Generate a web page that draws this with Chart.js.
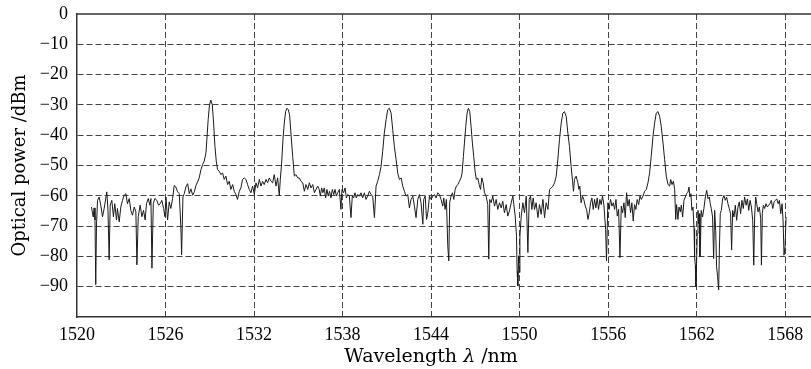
<!DOCTYPE html>
<html>
<head>
<meta charset="utf-8">
<title>Optical spectrum</title>
<script src="https://cdn.jsdelivr.net/npm/chart.js@4.4.0/dist/chart.umd.min.js"></script>
<style>
    html, body { margin: 0; padding: 0; background: #fff; }
    #wrap { width: 811px; height: 369px; }
</style>
</head>
<body>
<div id="wrap"><canvas id="spectrum" width="811" height="369"></canvas></div>
<script>
const wavelength = [
    1520.98, 1521.10, 1521.16, 1521.22, 1521.27, 1521.32, 1521.39, 1521.50, 1521.61, 1521.73,
    1521.84, 1522.02, 1522.10, 1522.18, 1522.25, 1522.36, 1522.47, 1522.56, 1522.68, 1522.74,
    1522.86, 1522.97, 1523.08, 1523.20, 1523.31, 1523.42, 1523.54, 1523.65, 1523.76, 1523.88,
    1523.99, 1524.06, 1524.15, 1524.28, 1524.40, 1524.51, 1524.62, 1524.71, 1524.83, 1524.94,
    1525.01, 1525.08, 1525.17, 1525.28, 1525.41, 1525.53, 1525.64, 1525.75, 1525.87, 1525.96,
    1526.03, 1526.14, 1526.25, 1526.36, 1526.48, 1526.59, 1526.70, 1526.82, 1526.93, 1527.04,
    1527.09, 1527.18, 1527.27, 1527.38, 1527.50, 1527.61, 1527.72, 1527.84, 1527.95, 1528.06,
    1528.17, 1528.28, 1528.40, 1528.51, 1528.62, 1528.74, 1528.80, 1528.89, 1528.98, 1529.07,
    1529.17, 1529.26, 1529.35, 1529.44, 1529.53, 1529.64, 1529.75, 1529.87, 1529.98, 1530.09,
    1530.21, 1530.32, 1530.43, 1530.55, 1530.66, 1530.77, 1530.88, 1531.00, 1531.11, 1531.22,
    1531.34, 1531.45, 1531.56, 1531.68, 1531.79, 1531.90, 1532.02, 1532.13, 1532.24, 1532.36,
    1532.47, 1532.58, 1532.69, 1532.81, 1532.92, 1533.03, 1533.15, 1533.26, 1533.37, 1533.49,
    1533.60, 1533.71, 1533.78, 1533.87, 1533.96, 1534.05, 1534.14, 1534.23, 1534.32, 1534.41,
    1534.50, 1534.62, 1534.73, 1534.84, 1534.96, 1535.07, 1535.18, 1535.30, 1535.41, 1535.52,
    1535.64, 1535.75, 1535.86, 1535.98, 1536.09, 1536.20, 1536.31, 1536.42, 1536.49, 1536.58,
    1536.67, 1536.76, 1536.85, 1536.94, 1537.03, 1537.12, 1537.21, 1537.31, 1537.40, 1537.49,
    1537.58, 1537.67, 1537.78, 1537.89, 1537.96, 1538.07, 1538.17, 1538.26, 1538.35, 1538.46,
    1538.57, 1538.66, 1538.75, 1538.84, 1538.93, 1539.02, 1539.14, 1539.25, 1539.36, 1539.48,
    1539.59, 1539.70, 1539.82, 1539.93, 1540.04, 1540.16, 1540.27, 1540.38, 1540.50, 1540.61,
    1540.72, 1540.83, 1540.95, 1541.06, 1541.17, 1541.29, 1541.40, 1541.51, 1541.63, 1541.74,
    1541.85, 1541.97, 1542.08, 1542.19, 1542.31, 1542.42, 1542.53, 1542.64, 1542.76, 1542.87,
    1542.98, 1543.10, 1543.21, 1543.32, 1543.44, 1543.50, 1543.60, 1543.69, 1543.78, 1543.89,
    1544.00, 1544.12, 1544.23, 1544.34, 1544.45, 1544.56, 1544.68, 1544.79, 1544.86, 1544.95,
    1545.04, 1545.13, 1545.20, 1545.26, 1545.35, 1545.45, 1545.54, 1545.63, 1545.72, 1545.81,
    1545.92, 1546.03, 1546.10, 1546.19, 1546.26, 1546.35, 1546.44, 1546.53, 1546.62, 1546.71,
    1546.80, 1546.89, 1546.98, 1547.07, 1547.16, 1547.26, 1547.35, 1547.44, 1547.53, 1547.62,
    1547.73, 1547.84, 1547.91, 1547.98, 1548.07, 1548.18, 1548.30, 1548.41, 1548.52, 1548.64,
    1548.75, 1548.86, 1548.97, 1549.09, 1549.20, 1549.31, 1549.43, 1549.54, 1549.61, 1549.70,
    1549.79, 1549.83, 1549.88, 1549.93, 1549.97, 1550.02, 1550.11, 1550.22, 1550.33, 1550.45,
    1550.56, 1550.65, 1550.74, 1550.83, 1550.92, 1551.01, 1551.12, 1551.24, 1551.35, 1551.46,
    1551.58, 1551.69, 1551.80, 1551.92, 1552.03, 1552.14, 1552.26, 1552.37, 1552.48, 1552.59,
    1552.70, 1552.82, 1552.93, 1553.04, 1553.16, 1553.27, 1553.38, 1553.49, 1553.59, 1553.65,
    1553.72, 1553.83, 1553.95, 1554.02, 1554.08, 1554.17, 1554.26, 1554.35, 1554.45, 1554.54,
    1554.63, 1554.72, 1554.81, 1554.90, 1554.99, 1555.08, 1555.17, 1555.26, 1555.35, 1555.44,
    1555.53, 1555.62, 1555.71, 1555.83, 1555.89, 1555.98, 1556.07, 1556.16, 1556.26, 1556.35,
    1556.44, 1556.53, 1556.62, 1556.71, 1556.80, 1556.89, 1556.98, 1557.07, 1557.16, 1557.25,
    1557.34, 1557.43, 1557.52, 1557.61, 1557.70, 1557.79, 1557.88, 1557.97, 1558.07, 1558.16,
    1558.25, 1558.36, 1558.47, 1558.59, 1558.70, 1558.81, 1558.92, 1559.04, 1559.15, 1559.26,
    1559.38, 1559.49, 1559.60, 1559.72, 1559.83, 1559.94, 1560.06, 1560.17, 1560.24, 1560.33,
    1560.42, 1560.51, 1560.58, 1560.64, 1560.73, 1560.80, 1560.89, 1560.96, 1561.05, 1561.14,
    1561.23, 1561.32, 1561.41, 1561.48, 1561.54, 1561.61, 1561.68, 1561.75, 1561.82, 1561.86,
    1561.91, 1561.95, 1562.00, 1562.04, 1562.09, 1562.13, 1562.18, 1562.22, 1562.27, 1562.31,
    1562.40, 1562.49, 1562.59, 1562.68, 1562.77, 1562.86, 1562.92, 1562.99, 1563.08, 1563.15,
    1563.22, 1563.29, 1563.35, 1563.42, 1563.49, 1563.54, 1563.60, 1563.67, 1563.76, 1563.85,
    1563.94, 1564.03, 1564.12, 1564.21, 1564.30, 1564.37, 1564.44, 1564.53, 1564.62, 1564.71,
    1564.80, 1564.89, 1564.98, 1565.07, 1565.16, 1565.25, 1565.35, 1565.44, 1565.53, 1565.62,
    1565.71, 1565.80, 1565.87, 1565.93, 1566.00, 1566.07, 1566.16, 1566.25, 1566.34, 1566.39,
    1566.45, 1566.52, 1566.61, 1566.70, 1566.79, 1566.88, 1566.97, 1567.06, 1567.16, 1567.25,
    1567.34, 1567.43, 1567.52, 1567.61, 1567.70, 1567.79, 1567.86, 1567.92, 1567.99, 1568.06
];

const power = [
    -63.7, -67.0, -64.0, -68.0, -89.3, -70.0, -61.5, -60.4, -63.1, -66.9,
    -64.2, -58.7, -64.8, -81.1, -63.1, -61.5, -66.9, -62.6, -68.0, -64.2,
    -68.6, -63.7, -61.5, -59.8, -59.3, -62.6, -60.9, -64.8, -66.4, -63.7,
    -65.3, -82.8, -66.9, -63.1, -66.9, -64.8, -68.0, -62.6, -60.9, -63.1,
    -60.9, -83.9, -62.6, -60.9, -61.5, -63.1, -62.6, -61.5, -64.2, -66.9,
    -60.4, -68.0, -62.0, -64.2, -60.9, -56.6, -57.1, -58.7, -59.3, -70.2,
    -79.5, -60.4, -59.3, -57.1, -56.0, -59.3, -57.7, -59.8, -58.7, -56.6,
    -55.5, -54.1, -51.4, -49.7, -48.6, -45.9, -41.5, -34.9, -30.0, -28.4,
    -30.0, -36.0, -43.7, -48.6, -51.4, -51.9, -53.0, -52.5, -54.6, -53.5,
    -56.3, -55.2, -57.9, -56.3, -58.5, -59.6, -61.2, -58.5, -57.4, -54.6,
    -54.1, -54.6, -56.3, -57.9, -59.0, -56.8, -59.6, -55.7, -57.4, -54.6,
    -56.8, -55.2, -56.3, -54.6, -55.7, -54.1, -55.2, -55.7, -53.0, -56.8,
    -54.1, -59.9, -54.6, -49.2, -41.5, -36.0, -32.2, -31.1, -31.6, -33.3,
    -39.3, -47.0, -53.5, -53.0, -54.1, -54.1, -55.2, -55.7, -58.5, -56.3,
    -57.9, -55.7, -57.4, -56.3, -59.0, -57.9, -56.8, -57.9, -60.1, -57.4,
    -59.0, -57.4, -60.7, -57.9, -60.1, -58.5, -60.7, -57.9, -59.6, -57.9,
    -60.1, -59.0, -57.9, -64.5, -57.9, -59.0, -57.4, -60.7, -59.6, -60.1,
    -67.2, -60.1, -60.7, -59.0, -60.7, -59.6, -60.1, -59.0, -60.7, -59.0,
    -61.2, -60.1, -58.5, -59.6, -60.1, -67.2, -56.8, -55.2, -53.0, -50.3,
    -45.3, -39.3, -34.9, -31.6, -31.1, -32.7, -38.2, -43.7, -48.1, -52.5,
    -54.6, -54.1, -56.8, -58.5, -60.1, -59.6, -64.0, -61.2, -60.1, -63.4,
    -67.2, -61.2, -59.6, -62.3, -69.4, -61.2, -60.1, -67.8, -65.6, -60.1,
    -61.2, -60.1, -59.6, -60.7, -59.0, -59.6, -61.2, -63.4, -60.7, -64.5,
    -61.2, -76.5, -81.5, -62.3, -60.1, -59.0, -61.2, -57.9, -56.8, -56.3,
    -55.2, -54.1, -52.5, -47.0, -42.6, -37.1, -32.7, -31.1, -32.2, -37.1,
    -42.6, -47.0, -51.9, -54.6, -54.1, -56.3, -57.9, -54.1, -55.7, -59.0,
    -60.1, -62.9, -80.9, -61.2, -62.3, -60.1, -63.4, -61.2, -64.5, -62.3,
    -64.0, -61.8, -65.6, -62.9, -66.7, -65.0, -62.3, -60.1, -62.9, -66.7,
    -73.3, -84.8, -89.7, -79.8, -85.3, -73.3, -66.7, -62.3, -65.6, -60.1,
    -78.7, -61.2, -60.1, -64.5, -60.7, -64.5, -62.3, -67.2, -62.9, -66.1,
    -61.2, -67.2, -62.3, -64.5, -57.9, -57.4, -56.8, -55.7, -53.5, -48.1,
    -41.5, -36.0, -32.7, -32.2, -33.8, -39.3, -43.7, -50.3, -55.2, -58.5,
    -54.6, -53.5, -55.7, -57.9, -56.8, -62.3, -60.1, -61.2, -63.4, -64.5,
    -67.8, -65.6, -62.3, -60.7, -64.5, -61.2, -64.0, -60.7, -64.5, -61.2,
    -62.9, -60.1, -62.9, -71.1, -81.5, -62.3, -64.5, -61.2, -63.4, -62.3,
    -64.5, -61.2, -66.7, -64.5, -80.4, -63.4, -65.6, -62.3, -67.2, -59.0,
    -63.4, -61.2, -65.6, -62.3, -68.3, -62.9, -64.5, -61.2, -62.9, -60.1,
    -61.2, -60.1, -58.5, -57.9, -55.7, -52.5, -47.0, -40.4, -36.0, -32.7,
    -32.2, -33.8, -37.1, -42.6, -48.1, -53.5, -56.3, -56.8, -54.6, -56.3,
    -55.2, -57.9, -67.8, -62.9, -67.8, -63.7, -65.3, -63.1, -67.0, -61.5,
    -60.4, -59.3, -58.8, -57.1, -60.4, -59.3, -64.8, -63.7, -70.8, -80.1,
    -82.9, -90.0, -81.2, -72.5, -64.8, -69.2, -65.9, -80.1, -73.5, -64.8,
    -67.0, -64.2, -60.4, -58.2, -61.0, -60.4, -62.6, -64.2, -67.0, -80.7,
    -64.8, -71.4, -83.4, -86.7, -91.1, -77.9, -65.9, -64.8, -61.0, -59.9,
    -61.5, -60.4, -62.6, -64.2, -65.9, -77.9, -64.8, -67.0, -63.1, -68.1,
    -63.7, -62.0, -65.9, -61.5, -64.2, -60.4, -63.1, -61.0, -64.8, -61.5,
    -63.7, -68.1, -82.9, -67.0, -60.4, -62.6, -65.3, -63.7, -67.5, -82.9,
    -65.9, -63.1, -64.2, -62.6, -63.7, -63.1, -62.6, -61.5, -64.2, -62.0,
    -61.5, -61.0, -62.6, -61.5, -65.9, -62.6, -68.6, -79.6, -76.8, -67.0
];

// Axis ticks
const xTicks = [1520, 1526, 1532, 1538, 1544, 1550, 1556, 1562, 1568];
const yTicks = [0, -10, -20, -30, -40, -50, -60, -70, -80, -90, -100];

const TICK_FONT = "'Liberation Serif', 'DejaVu Serif', serif";
const TITLE_FONT = "'DejaVu Serif', 'Liberation Serif', serif";
const FRAME = '#333';
const GRID = '#444';
const TEXT = '#000';

/**
 * Top edge of the plot frame (Chart.js only draws the axis borders)
 */
const frameTop = {
    id: 'frameTop',
    afterDraw(chart) {
        const { ctx, chartArea } = chart;
        ctx.save();
        ctx.strokeStyle = FRAME;
        ctx.lineWidth = 1.5;
        ctx.beginPath();
        ctx.moveTo(chartArea.left, chartArea.top);
        ctx.lineTo(chartArea.right, chartArea.top);
        ctx.stroke();
        ctx.restore();
    }
};

/**
 * X axis title with an italic lambda, centred under the labelled range
 */
const xTitle = {
    id: 'xTitle',
    afterDraw(chart) {
        const { ctx } = chart;
        const x = chart.scales.x;
        const parts = [
            { text: 'Wavelength ', font: '19px ' + TITLE_FONT },
            { text: 'λ', font: 'italic 19px ' + TITLE_FONT },
            { text: ' /nm', font: '19px ' + TITLE_FONT }
        ];
        ctx.save();
        let total = 0;
        parts.forEach(p => { ctx.font = p.font; p.w = ctx.measureText(p.text).width; total += p.w; });
        const mid = (x.getPixelForValue(xTicks[0]) + x.getPixelForValue(xTicks[xTicks.length - 1])) / 2;
        let cx = mid - total / 2;
        ctx.fillStyle = TEXT;
        ctx.textBaseline = 'middle';
        ctx.textAlign = 'left';
        parts.forEach(p => {
            ctx.font = p.font;
            ctx.fillText(p.text, cx, x.bottom - 12);
            cx += p.w;
        });
        ctx.restore();
    }
};

function formatPower(v) {
    if (v === -100) return '';
    return v < 0 ? '\u2212' + Math.abs(v) : String(v);
}

const points = wavelength.map((w, i) => ({ x: w, y: power[i] }));

const ctx = document.getElementById('spectrum').getContext('2d');
new Chart(ctx, {
    type: 'line',
    data: {
        datasets: [{
            data: points,
            borderColor: '#1a1a1a',
            borderWidth: 1,
            pointRadius: 0,
            tension: 0,
            fill: false
        }]
    },
    options: {
        responsive: false,
        animation: false,
        layout: { padding: { top: 14, right: 0, bottom: 0, left: 0 } },
        plugins: {
            legend: { display: false },
            tooltip: { enabled: false }
        },
        scales: {
            x: {
                type: 'linear',
                min: 1520,
                max: 1569.75,
                afterBuildTicks: s => { s.ticks = xTicks.map(v => ({ value: v })); },
                afterFit: s => { s.height = 52; s.paddingLeft = 0; s.paddingRight = 0; },
                grid: {
                    color: c => (c.tick && c.tick.value === xTicks[0]) ? 'rgba(0,0,0,0)' : GRID,
                    lineWidth: 1,
                    drawTicks: false
                },
                border: { display: true, color: FRAME, width: 1.5, dash: [6, 3] },
                ticks: {
                    padding: 7,
                    color: TEXT,
                    maxRotation: 0,
                    callback: v => String(v),
                    font: { family: TICK_FONT, size: 18 }
                }
            },
            y: {
                min: -100,
                max: 0,
                afterBuildTicks: s => { s.ticks = yTicks.map(v => ({ value: v })); },
                afterFit: s => { s.width = 77; s.paddingTop = 0; s.paddingBottom = 0; },
                grid: {
                    color: c => (c.tick && (c.tick.value === 0 || c.tick.value === -100)) ? 'rgba(0,0,0,0)' : GRID,
                    lineWidth: 1,
                    drawTicks: false
                },
                border: { display: true, color: FRAME, width: 1.5, dash: [6, 3] },
                ticks: {
                    padding: 9,
                    color: TEXT,
                    callback: formatPower,
                    font: { family: TICK_FONT, size: 18 }
                },
                title: {
                    display: true,
                    text: 'Optical power /dBm',
                    color: TEXT,
                    padding: { top: 10, bottom: 0 },
                    font: { family: TITLE_FONT, size: 18 }
                }
            }
        }
    },
    plugins: [frameTop, xTitle]
});
</script>
</body>
</html>
